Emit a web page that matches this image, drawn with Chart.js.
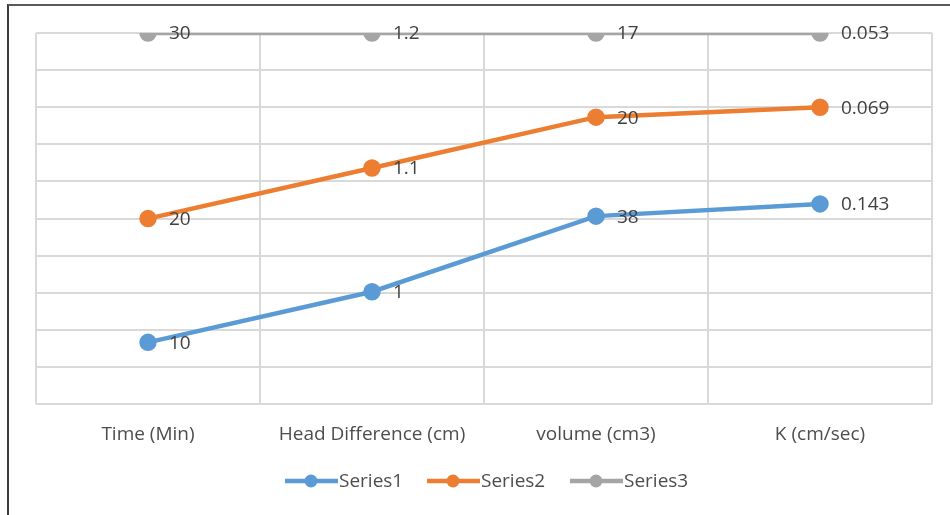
<!DOCTYPE html>
<html>
<head>
<meta charset="utf-8">
<script src="https://cdn.jsdelivr.net/npm/chart.js@4/dist/chart.umd.min.js"></script>
<style>
    html, body { margin: 0; padding: 0; background: #fff; overflow: hidden; }
    .frame {
        position: absolute;
        left: 7px;
        top: 4px;
        width: 1000px;
        height: 600px;
        border-left: 2px solid #3a3a3a;
        border-top: 2px solid #5a5a5a;
    }
    .wrap { position: absolute; left: 0; top: 0; width: 950px; height: 515px; }
</style>
</head>
<body>
<div class="frame"></div>
<div class="wrap"><canvas id="chart" width="950" height="515"></canvas></div>
<script>
const categories = ['Time (Min)', 'Head Difference (cm)', 'volume (cm3)', 'K (cm/sec)'];
const series1 = [10, 1, 38, 0.143];
const series2 = [20, 1.1, 20, 0.069];
const series3 = [30, 1.2, 17, 0.053];
const seriesNames = ['Series1', 'Series2', 'Series3'];
const seriesColors = ['#5b9bd5', '#ed7d31', '#a5a5a5'];

const fontFamily = "'Open Sans', 'Noto Sans', sans-serif";
const allSeries = [series1, series2, series3];

// 100% stacked: each series as a share of the column total
const totals = categories.map((_, i) => allSeries.reduce((s, arr) => s + arr[i], 0));
const shares = allSeries.map(arr => arr.map((v, i) => v / totals[i] * 100));

const valueLabels = {
    id: 'valueLabels',
    afterDatasetsDraw (chart) {
        const ctx = chart.ctx;
        ctx.save();
        ctx.font = '19px ' + fontFamily;
        ctx.fillStyle = '#404040';
        ctx.textAlign = 'left';
        ctx.textBaseline = 'middle';
        chart.data.datasets.forEach((ds, di) => {
            chart.getDatasetMeta(di).data.forEach((pt, i) => {
                ctx.fillText(String(ds.raw[i]), pt.x + 21, pt.y + 1);
            });
        });
        ctx.restore();
    }
};

const lineLegend = {
    id: 'lineLegend',
    afterDraw (chart) {
        const ctx = chart.ctx;
        const y = 481;
        const starts = [285, 427, 570];
        ctx.save();
        ctx.font = '19px ' + fontFamily;
        ctx.textBaseline = 'middle';
        ctx.textAlign = 'left';
        seriesNames.forEach((name, i) => {
            const x = starts[i];
            ctx.strokeStyle = seriesColors[i];
            ctx.lineWidth = 4.5;
            ctx.beginPath();
            ctx.moveTo(x, y);
            ctx.lineTo(x + 53, y);
            ctx.stroke();
            ctx.fillStyle = seriesColors[i];
            ctx.beginPath();
            ctx.arc(x + 26, y, 6.5, 0, Math.PI * 2);
            ctx.fill();
            ctx.fillStyle = '#4d4d4d';
            ctx.fillText(name, x + 54, y + 1);
        });
        ctx.restore();
    }
};

new Chart(document.getElementById('chart').getContext('2d'), {
    type: 'line',
    data: {
        labels: categories,
        datasets: seriesNames.map((name, i) => ({
            label: name,
            data: shares[i],
            raw: allSeries[i],
            borderColor: seriesColors[i],
            backgroundColor: seriesColors[i],
            borderWidth: 4.5,
            pointRadius: 6.5,
            pointHoverRadius: 6.5,
            fill: false,
            tension: 0
        }))
    },
    options: {
        responsive: false,
        animation: false,
        layout: {
            padding: { left: 36, right: 18, top: 33, bottom: 50 }
        },
        plugins: {
            legend: { display: false },
            tooltip: { enabled: false }
        },
        scales: {
            x: {
                offset: true,
                grid: {
                    offset: true,
                    color: '#d9d9d9',
                    lineWidth: 2,
                    drawTicks: false
                },
                border: { display: false },
                ticks: {
                    padding: 19,
                    color: '#4d4d4d',
                    font: { family: fontFamily, size: 19 }
                }
            },
            y: {
                stacked: true,
                min: 0,
                max: 100,
                grid: {
                    color: '#d9d9d9',
                    lineWidth: 2,
                    drawTicks: false
                },
                border: { display: false },
                ticks: { stepSize: 10, display: false }
            }
        }
    },
    plugins: [valueLabels, lineLegend]
});
</script>
</body>
</html>
